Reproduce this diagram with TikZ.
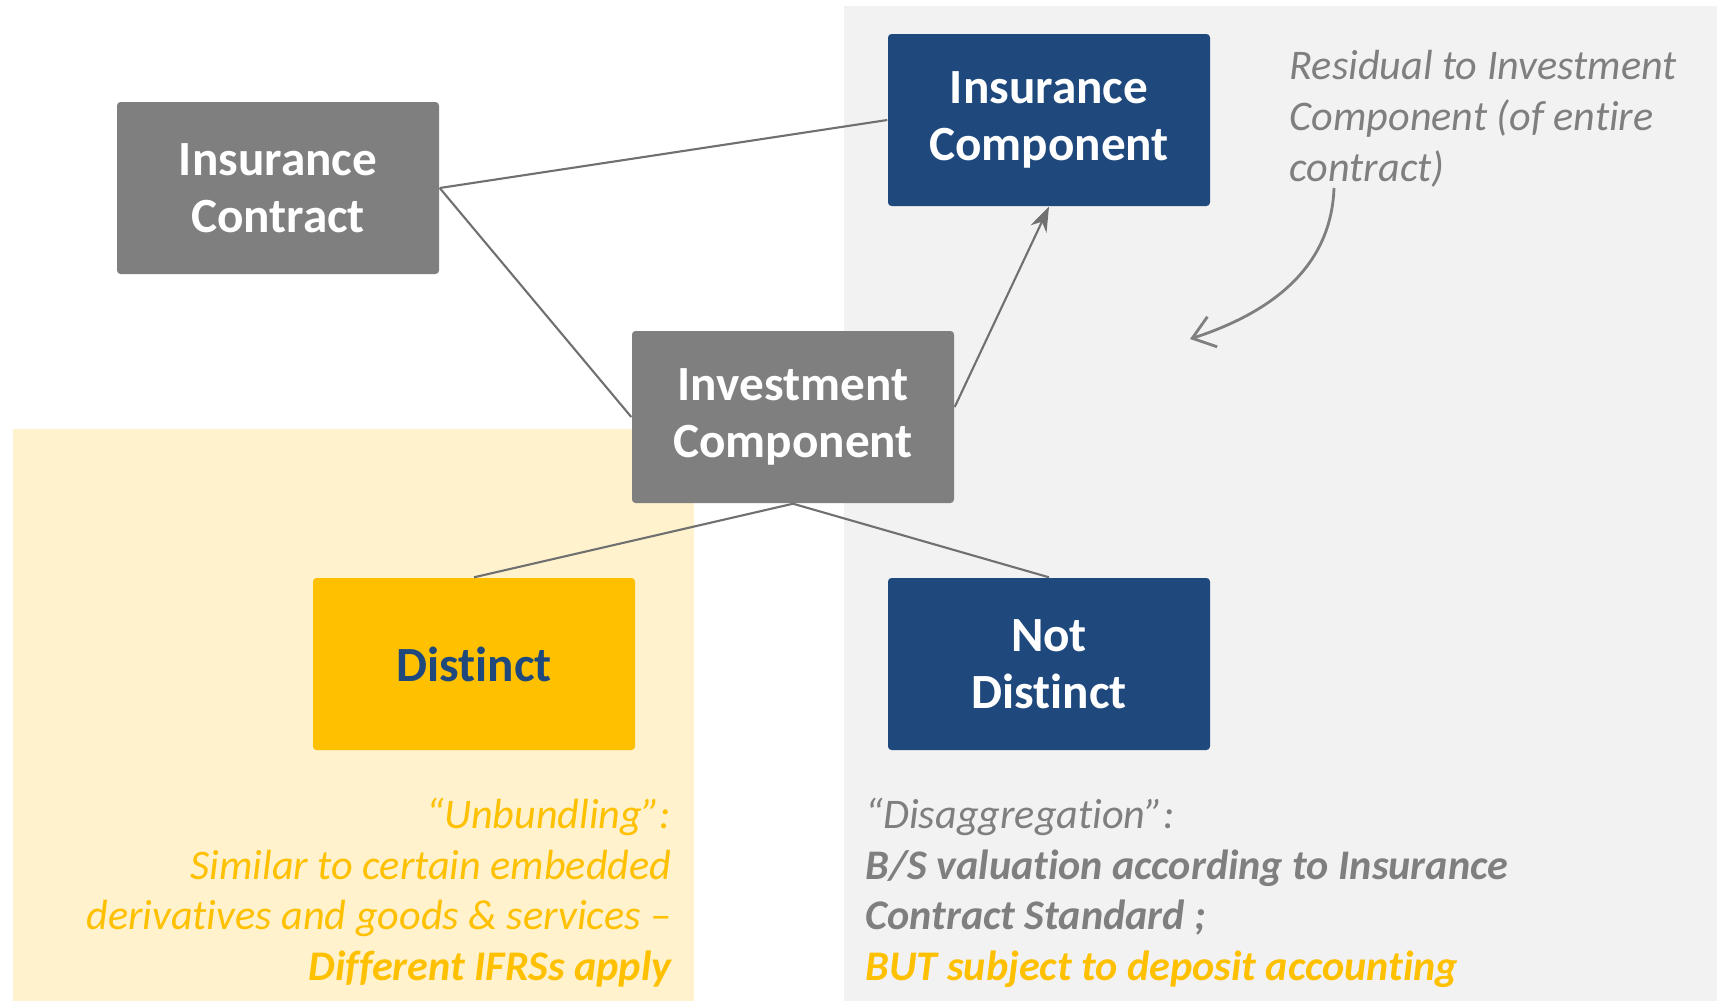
\documentclass[tikz,border=0pt]{standalone}
\usepackage{fontspec}
\setmainfont{Carlito}[Ligatures={TeX,NoCommon}]
\usepackage{tikz}
\usetikzlibrary{calc,positioning,arrows.meta}
\usepackage{xcolor}
\definecolor{mygray}{RGB}{127,127,127}
\definecolor{myblue}{RGB}{31,73,125}
\definecolor{myyellow}{RGB}{255,192,0}
\definecolor{mylightyellow}{RGB}{255,242,204}
\definecolor{mylightgray}{RGB}{242,242,242}
\definecolor{mylinegray}{RGB}{112,112,112}

\tikzset{
  box/.style={minimum width=3.22cm, minimum height=1.72cm, rounded corners=1pt,
    align=center, text=white, font=\fontsize{14}{16.3}\selectfont\bfseries},
  graybox/.style={box, fill=mygray},
  bluebox/.style={box, fill=myblue},
  link/.style={mylinegray, line width=0.6pt},
  note/.style={inner sep=0pt, font=\fontsize{12}{14.5}\selectfont\itshape}
}

\begin{document}
\begin{tikzpicture}
  \useasboundingbox (0,0) rectangle (17.17,-10.01);
  % backgrounds
  \fill[mylightgray] (8.44,-0.06) rectangle (17.17,-10.01);
  \fill[mylightyellow] (0.13,-4.29) rectangle (6.94,-10.01);

  % boxes
  \node[graybox] (contract) at (2.78,-1.88) {Insurance\\Contract};
  \node[bluebox] (inscomp) at (10.49,-1.20) {Insurance\\Component};
  \node[graybox] (invcomp) at (7.93,-4.17) {Investment\\Component};
  \node[box, fill=myyellow, text=myblue] (distinct) at (4.74,-6.64) {Distinct};
  \node[bluebox] (notdistinct) at (10.49,-6.64) {Not\\Distinct};

  \draw[link] (contract.east) -- (inscomp.west);
  \draw[link] (contract.east) -- (invcomp.west);
  \draw[link, -{Stealth[length=7pt,width=5pt]}] ([yshift=0.1cm]invcomp.east) -- (inscomp.south);
  \draw[link] (invcomp.south) -- (distinct.north);
  \draw[link] (invcomp.south) -- (notdistinct.north);

  % notes
  \node[note, text=mygray, align=left, anchor=north west] (residual) at (12.89,-0.50)
    {Residual to Investment\\Component (of entire\\contract)};
  \coordinate (curvestart) at (13.34,-1.88);
  \coordinate (curveend) at (11.90,-3.39);
  \draw[mygray, line width=0.8pt, -{Straight Barb[length=6pt,width=9pt]}]
    (curvestart) to[out=-92, in=18] (curveend);

  \node[note, text=myyellow, align=right, anchor=north east] (unbundling) at (6.72,-7.97)
    {``Unbundling'':\\Similar to certain embedded\\derivatives and goods \& services --\\\textbf{Different IFRSs apply}};
  \node[note, text=mygray, align=left, anchor=north west] (disagg) at (8.65,-7.97)
    {``Disaggregation'':\\\textbf{B/S valuation according to Insurance}\\\textbf{Contract Standard ;}\\\textbf{\color{myyellow}BUT subject to deposit accounting}};
\end{tikzpicture}
\end{document}
